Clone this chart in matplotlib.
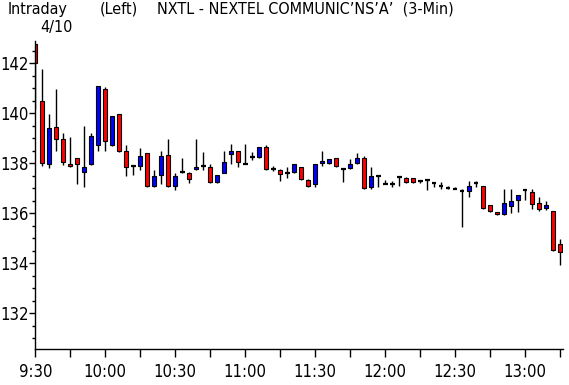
import matplotlib
matplotlib.use("Agg")
import matplotlib.pyplot as plt
from matplotlib.ticker import MultipleLocator

# 3-min bars, 9:30 .. 13:15
opens = [142.76, 140.47, 137.97, 139.44, 138.96, 137.96, 138.19, 137.63, 137.96, 138.73,
         140.95, 138.73, 139.95, 138.47, 137.87, 137.87, 138.39, 137.09, 137.51, 138.32,
         137.07, 137.63, 137.59, 137.75, 137.88, 137.83, 137.23, 137.61, 138.35, 138.47,
         137.96, 138.23, 138.23, 138.63, 137.75, 137.71, 137.59, 137.63, 137.83, 137.31,
         137.15, 137.99, 137.99, 138.19, 137.75, 137.79, 137.99, 138.19, 137.03, 137.49,
         137.16, 137.16, 137.45, 137.39, 137.39, 137.28, 137.31, 137.19, 137.07, 137.01,
         136.95, 136.88, 136.87, 137.19, 137.07, 136.31, 136.05, 135.97, 136.27, 136.51,
         136.92, 136.83, 136.39, 136.19, 136.07, 134.76]
highs = [142.76, 141.76, 139.96, 140.97, 139.20, 139.04, 138.19, 139.48, 139.20, 141.07,
         141.04, 139.87, 139.95, 138.72, 137.87, 138.60, 138.39, 137.72, 138.47, 138.96,
         137.59, 138.20, 137.65, 138.96, 138.44, 137.95, 137.51, 138.48, 138.76, 138.47,
         138.76, 138.44, 138.63, 138.72, 137.87, 137.75, 137.83, 137.95, 137.83, 137.35,
         137.95, 138.48, 138.15, 138.19, 137.75, 138.15, 138.40, 138.27, 137.83, 137.53,
         137.32, 137.28, 137.45, 137.45, 137.39, 137.32, 137.31, 137.19, 137.23, 137.07,
         137.03, 136.95, 137.28, 137.28, 137.07, 136.31, 136.05, 136.96, 136.96, 136.71,
         136.95, 136.95, 136.63, 136.47, 136.07, 134.96]
lows = [140.17, 137.87, 137.80, 138.47, 137.93, 137.83, 137.17, 137.05, 137.93, 138.47,
        138.47, 138.70, 138.45, 137.47, 137.51, 137.73, 137.05, 137.05, 137.17, 137.05,
        136.91, 137.58, 137.19, 137.71, 137.72, 137.19, 137.19, 137.59, 137.95, 137.83,
        137.96, 138.12, 138.19, 137.71, 137.67, 137.29, 137.39, 137.60, 137.31, 137.03,
        137.03, 137.87, 137.95, 137.83, 137.25, 137.75, 137.95, 136.95, 136.95, 137.03,
        137.16, 137.05, 137.08, 137.19, 137.19, 137.19, 136.92, 137.05, 136.95, 136.95,
        136.95, 135.45, 136.63, 137.03, 136.17, 136.05, 135.93, 135.93, 136.01, 136.05,
        136.51, 136.15, 136.07, 136.11, 134.48, 133.92]
closes = [142.00, 138.00, 139.40, 138.97, 138.05, 137.87, 137.97, 137.83, 139.07, 141.07,
          138.87, 139.87, 138.49, 137.83, 137.87, 138.27, 137.09, 137.47, 138.27, 137.09,
          137.47, 137.63, 137.35, 137.83, 137.88, 137.23, 137.51, 138.03, 138.47, 138.05,
          137.96, 138.23, 138.63, 137.75, 137.75, 137.55, 137.59, 137.95, 137.35, 137.07,
          137.95, 138.07, 138.15, 137.87, 137.75, 137.95, 138.19, 136.99, 137.47, 137.49,
          137.16, 137.16, 137.45, 137.23, 137.23, 137.28, 137.31, 137.19, 137.07, 137.01,
          136.95, 136.88, 137.07, 137.19, 136.21, 136.09, 135.97, 136.39, 136.47, 136.71,
          136.92, 136.35, 136.15, 136.31, 134.52, 134.45]
time_labels = ["9:30", "10:00", "10:30", "11:00", "11:30", "12:00", "12:30", "13:00"]

plt.rcParams['font.family'] = ['DejaVu Sans']
plt.rcParams['font.stretch'] = 'condensed'

fig = plt.figure(figsize=(5.69, 3.85), dpi=100)
ax = fig.add_axes([35.3 / 569, 36 / 385, 527.7 / 569, 308.5 / 385])

n = len(opens)
x = list(range(n))
w = 0.55

# wicks
ax.vlines(x, lows, highs, color='black', lw=1, zorder=1)

# bodies
for i in range(n):
    o, c = opens[i], closes[i]
    if c > o:
        ax.bar(i, c - o, bottom=o, width=w, color='#0000FF', edgecolor='black', lw=0.8, zorder=2)
    elif c < o:
        ax.bar(i, o - c, bottom=c, width=w, color='#FF0000', edgecolor='black', lw=0.8, zorder=2)
    else:
        ax.hlines(o, i - w / 2 - 0.05, i + w / 2 + 0.05, color='black', lw=1.6, zorder=2)

ax.set_xlim(0, 75.4)
ax.set_ylim(130.56, 142.9)

for s in ['top', 'right']:
    ax.spines[s].set_visible(False)
ax.spines['left'].set_linewidth(1)
ax.spines['bottom'].set_linewidth(1)

ax.yaxis.set_major_locator(MultipleLocator(2))
ax.yaxis.set_minor_locator(MultipleLocator(0.5))
ax.tick_params(axis='y', which='major', length=4, width=1, labelsize=12, pad=1)
ax.tick_params(axis='y', which='minor', length=2.5, width=1)

xt = list(range(0, 76, 5))
xl = []
for k in xt:
    xl.append(time_labels[k // 10] if k % 10 == 0 else "")
ax.set_xticks(xt)
ax.set_xticklabels(xl)
ax.tick_params(axis='x', which='major', length=6, width=1, labelsize=12, pad=4)

fig.text(8 / 569, 1 - 2 / 385, "Intraday", fontsize=11.5, va='top', ha='left')
fig.text(40 / 569, 1 - 20 / 385, "4/10", fontsize=11.5, va='top', ha='left')
fig.text(100 / 569, 1 - 2 / 385, "(Left)", fontsize=11.5, va='top', ha='left')
fig.text(157 / 569, 1 - 2 / 385, "NXTL - NEXTEL COMMUNIC\u2019NS\u2019A\u2019  (3-Min)",
         fontsize=11.5, va='top', ha='left')

fig.savefig("out.png", dpi=100)
